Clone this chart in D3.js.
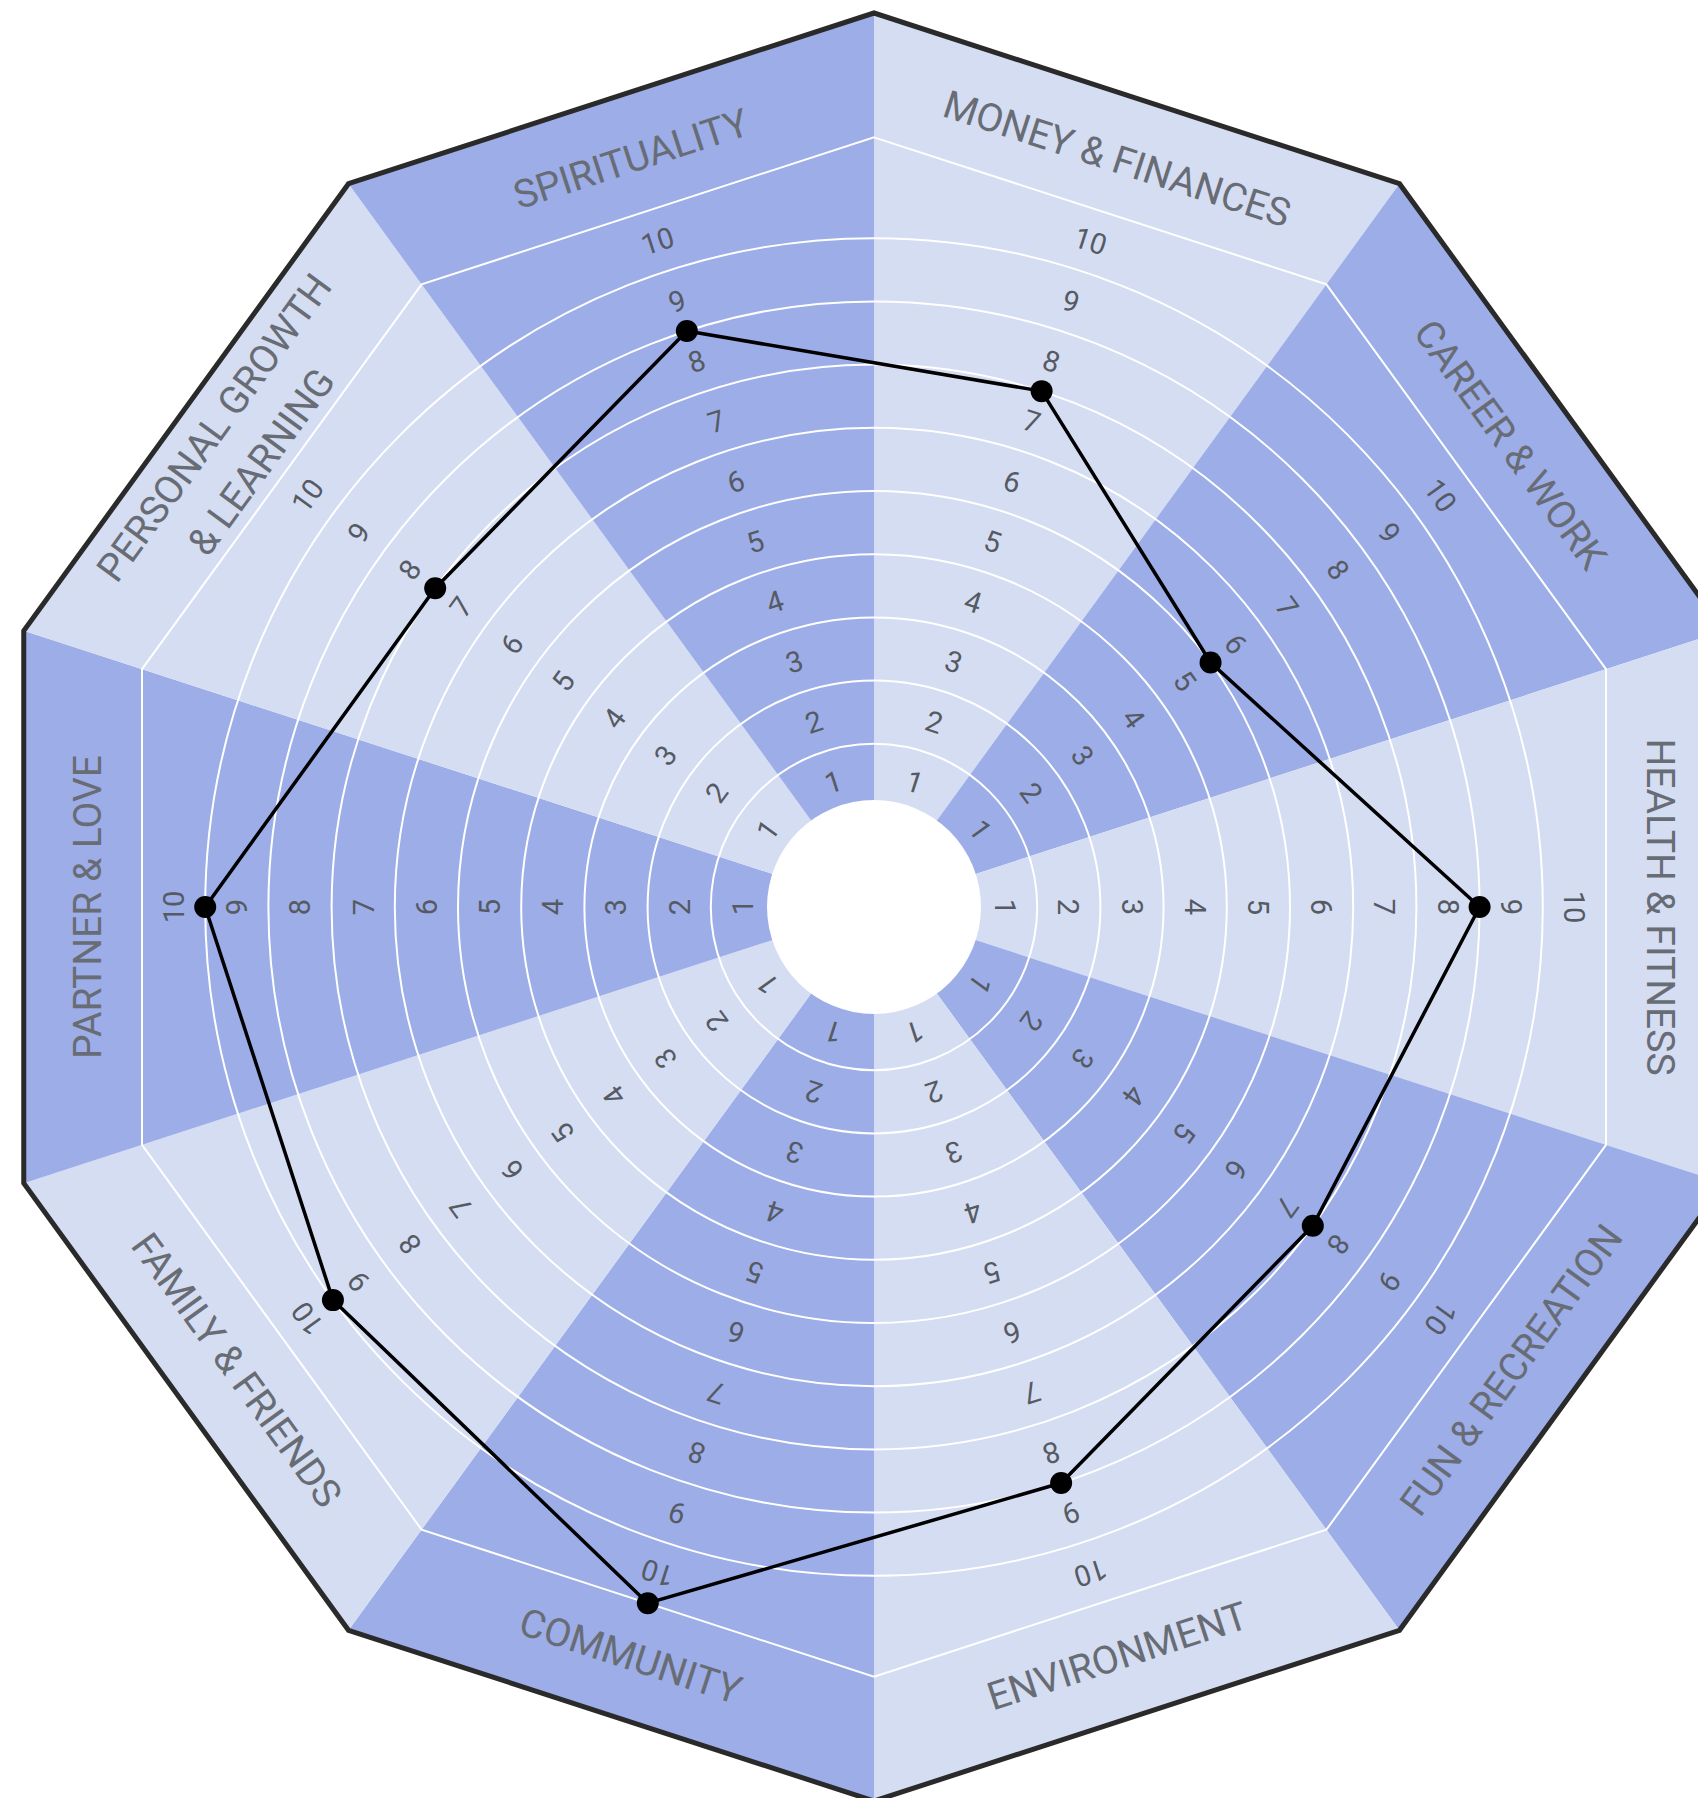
<!DOCTYPE html>
<html>
<head>
<meta charset="utf-8">
<script src="https://cdn.jsdelivr.net/npm/d3@7"></script>
<style>
  html, body { margin: 0; padding: 0; background: #ffffff; }
  svg { display: block; }
</style>
</head>
<body>
<svg id="chart" width="1698" height="1798"></svg>
<script>
// ---- data (clockwise from 12 o'clock) ----
const categories = [
  "MONEY & FINANCES",
  "CAREER & WORK",
  "HEALTH & FITNESS",
  "FUN & RECREATION",
  "ENVIRONMENT",
  "COMMUNITY",
  "FAMILY & FRIENDS",
  "PARTNER & LOVE",
  "PERSONAL GROWTH\n& LEARNING",
  "SPIRITUALITY"
];
const scores = [7, 5, 8, 7, 8, 10, 9, 9, 7, 8];
const tickValues = [1, 2, 3, 4, 5, 6, 7, 8, 9, 10];
const shades = ["#d5ddf3", "#9cade8"];

// ---- layout ----
const cx = 874, cy = 907;
const outerR = 894;
const holeR = 107;
const n = categories.length;
const step = 2 * Math.PI / n;

const angle = d3.scaleLinear().domain([0, n]).range([0, 2 * Math.PI]);
const radius = d3.scaleLinear().domain([0, 10]).range([100, 732]);

const innerPolyR = radius(10) / Math.cos(step / 2);
const outerApothem = outerR * Math.cos(step / 2);
const labelR = (radius(10) + outerApothem) / 2 - 4;

const pt = (a, r) => [r * Math.sin(a), -r * Math.cos(a)];
const deg = a => a * 180 / Math.PI;

const svg = d3.select("#chart");
const g = svg.append("g").attr("transform", `translate(${cx},${cy})`);

// sectors
g.selectAll("path.sector")
  .data(categories)
  .join("path")
  .attr("class", "sector")
  .attr("d", (d, i) => {
    const p1 = pt(angle(i), outerR), p2 = pt(angle(i + 1), outerR);
    return `M0,0L${p1[0]},${p1[1]}L${p2[0]},${p2[1]}Z`;
  })
  .attr("fill", (d, i) => shades[i % 2]);

// ring circles 1..9
g.selectAll("circle.ring")
  .data(tickValues.slice(0, 9))
  .join("circle")
  .attr("class", "ring")
  .attr("r", d => radius(d))
  .attr("fill", "none")
  .attr("stroke", "#ffffff")
  .attr("stroke-width", 2);

// inner decagon (ring 10)
const polyLine = d3.lineRadial()
  .angle(d => d.a)
  .radius(d => d.r)
  .curve(d3.curveLinearClosed);

g.append("path")
  .attr("d", polyLine(d3.range(n).map(i => ({ a: angle(i), r: innerPolyR }))))
  .attr("fill", "none")
  .attr("stroke", "#ffffff")
  .attr("stroke-width", 2);

// centre hole
g.append("circle")
  .attr("r", holeR)
  .attr("fill", "#ffffff");

// ring numbers
const numData = [];
categories.forEach((c, i) => {
  tickValues.forEach(k => numData.push({ i, k }));
});
g.selectAll("text.num")
  .data(numData)
  .join("text")
  .attr("class", "num")
  .attr("transform", d => {
    const a = angle(d.i + 0.5);
    const p = pt(a, radius(d.k - 0.5));
    return `translate(${p[0]},${p[1]}) rotate(${deg(a)})`;
  })
  .attr("text-anchor", "middle")
  .attr("dy", "0.36em")
  .attr("font-family", "Roboto, 'Noto Sans', sans-serif")
  .attr("font-size", 29)
  .attr("fill", "#565a62")
  .text(d => d.k);

// category labels
const lab = g.selectAll("g.lab")
  .data(categories)
  .join("g")
  .attr("class", "lab")
  .attr("transform", (d, i) => {
    const a = angle(i + 0.5);
    const p = pt(a, labelR);
    let r = deg(a);
    if (r > 90 && r < 270) r -= 180;
    return `translate(${p[0]},${p[1]}) rotate(${r})`;
  });

lab.each(function (d) {
  const lines = d.split("\n");
  const gap = 58;
  d3.select(this).selectAll("text")
    .data(lines)
    .join("text")
    .attr("y", (t, j) => (j - (lines.length - 1) / 2) * gap)
    .attr("dy", "0.36em")
    .attr("text-anchor", "middle")
    .attr("font-family", "Roboto, 'Noto Sans', sans-serif")
    .attr("font-size", 39)
    .attr("fill", "#686c74")
    .text(t => t);
});

// score polygon
const scoreLine = d3.lineRadial()
  .angle((d, i) => angle(i + 0.5))
  .radius(d => radius(d))
  .curve(d3.curveLinearClosed);

g.append("path")
  .attr("d", scoreLine(scores))
  .attr("fill", "none")
  .attr("stroke", "#000000")
  .attr("stroke-width", 3.5)
  .attr("stroke-linejoin", "round");

g.selectAll("circle.dot")
  .data(scores)
  .join("circle")
  .attr("class", "dot")
  .attr("cx", (d, i) => pt(angle(i + 0.5), radius(d))[0])
  .attr("cy", (d, i) => pt(angle(i + 0.5), radius(d))[1])
  .attr("r", 11)
  .attr("fill", "#000000");

// outer decagon border
g.append("path")
  .attr("d", polyLine(d3.range(n).map(i => ({ a: angle(i), r: outerR }))))
  .attr("fill", "none")
  .attr("stroke", "#2a2a2a")
  .attr("stroke-width", 5)
  .attr("stroke-linejoin", "miter");
</script>
</body>
</html>
